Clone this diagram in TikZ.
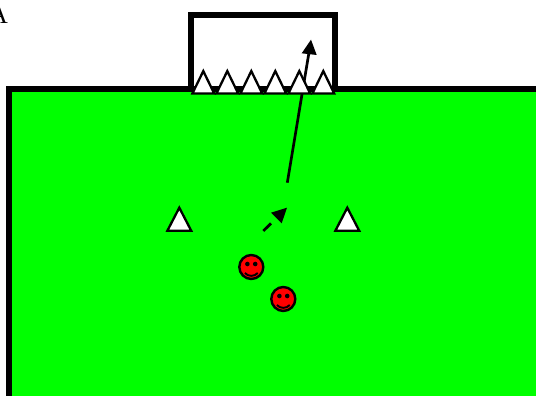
\documentclass[tikz,border=0pt]{standalone}
\usepackage{fontspec}
\setmainfont{Liberation Serif}
\definecolor{fieldgreen}{RGB}{0,255,0}
\definecolor{smile}{RGB}{255,0,0}
\tikzset{
  x=1pt,y=-1pt,
  frame/.style={draw=black,line width=6.2pt,miter limit=10},
  conemark/.pic={\draw[fill=white,draw=black,line width=2.3pt,miter limit=10] (-11.9,11.4) -- (0,-11.6) -- (11.9,11.4) -- cycle;},
  goalmark/.pic={\draw[fill=white,draw=black,line width=2.3pt,miter limit=10] (-10.9,11.2) -- (0,-11.2) -- (10.9,11.2) -- cycle;},
  smiley/.pic={
    \draw[fill=smile,draw=black,line width=2.4pt] (0,0) circle[radius=12];
    \fill[black] (-3.9,-3) circle[radius=2.3] (3.9,-3) circle[radius=2.3];
    \draw[black,line width=1.9pt] (-6.4,6) .. controls (-3,9.8) and (3,9.8) .. (6.4,6);
  },
  shot/.style={line width=2.7pt,draw=black},
  head/.style={fill=black,draw=none}
}
\begin{document}
\begin{tikzpicture}
\clip (0,0) rectangle (536,396);
\node[anchor=base,font=\fontsize{26}{26}\selectfont,inner sep=0pt] (lab) at (-1.5,24) {A};
% goal
\draw[frame,fill=white] (191.3,89) -- (191.3,15) -- (335.3,15) -- (335.3,89);
% field
\fill[fieldgreen] (9.2,89) rectangle (545,405);
\draw[frame] (9.2,405) -- (9.2,89) -- (545,89);
% shot into goal
\coordinate (s1) at (287.3,182.7);
\coordinate (t1) at (308.9,53);
\draw[shot] (s1) -- (t1);
\fill[head] (311,39.7) -- (301.7,53.3) -- (316.7,55) -- cycle;
% goal-line cones
\foreach \i/\x in {1/203.3,2/227.3,3/251.3,4/275.3,5/299.3,6/323.3}
  \pic (g\i) at (\x,82.3) {goalmark};
% field cones
\pic (c1) at (179.3,219.3) {conemark};
\pic (c2) at (347.3,219.3) {conemark};
% dashed run
\coordinate (s2) at (263.3,231);
\coordinate (t2) at (271,223.4);
\draw[shot] (s2) -- (t2);
\fill[head] (287,207.7) -- (271,212.7) -- (281.7,223.3) -- cycle;
% players
\pic (p1) at (251.3,267) {smiley};
\pic (p2) at (283.3,299) {smiley};
\end{tikzpicture}
\end{document}
